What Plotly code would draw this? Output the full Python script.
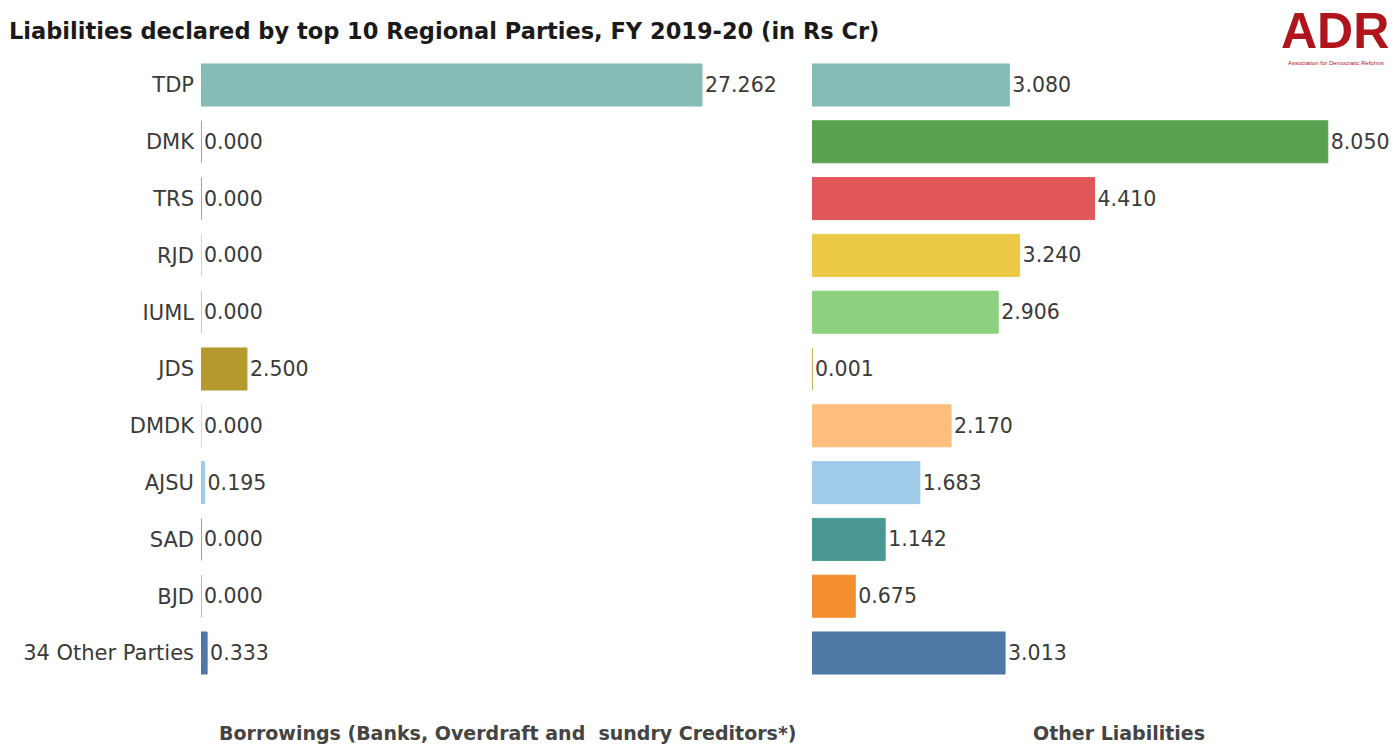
import plotly.graph_objects as go

parties = ["TDP", "DMK", "TRS", "RJD", "IUML", "JDS", "DMDK", "AJSU", "SAD", "BJD", "34 Other Parties"]
borrowings = [27.262, 0.000, 0.000, 0.000, 0.000, 2.500, 0.000, 0.195, 0.000, 0.000, 0.333]
other_liabilities = [3.080, 8.050, 4.410, 3.240, 2.906, 0.001, 2.170, 1.683, 1.142, 0.675, 3.013]
colors = ["#86BCB6", "#59A14F", "#E15759", "#EDC948", "#8CD17D", "#B6992D",
          "#FFBE7D", "#A0CBE8", "#499894", "#F28E2B", "#4E79A7"]

W, H = 1397, 747
FONT = "DejaVu Sans"


def px(x):
    return x / W


def py(y):
    return 1 - y / H


fig = go.Figure()
for trace_vals, xa, ya in [(borrowings, "x", "y"), (other_liabilities, "x2", "y2")]:
    fig.add_trace(go.Bar(
        y=parties, x=trace_vals, orientation="h", xaxis=xa, yaxis=ya,
        marker=dict(color=colors, line=dict(color=colors, width=1)),
        width=0.74, text=[f"{v:.3f}" for v in trace_vals], textposition="outside",
        textfont=dict(family=FONT, size=20.5, color="#3a3a3a"), cliponaxis=False,
        showlegend=False))

ydom = [py(681.4), py(56.6)]
fig.update_layout(
    width=W, height=H, margin=dict(l=0, r=0, t=0, b=0),
    paper_bgcolor="white", plot_bgcolor="white",
    font=dict(family=FONT, color="#333333"),
    xaxis=dict(domain=[px(201), px(790)], range=[0, 32.05], visible=False),
    xaxis2=dict(domain=[px(812), 1.0], range=[0, 9.13], visible=False),
    yaxis=dict(domain=ydom, anchor="x", autorange="reversed", categoryorder="array",
               categoryarray=parties, showgrid=False, zeroline=False, showline=False,
               ticks="", ticklabelstandoff=6,
               tickfont=dict(family=FONT, size=21, color="#3a3a3a")),
    yaxis2=dict(domain=ydom, anchor="x2", autorange="reversed", categoryorder="array",
                categoryarray=parties, showgrid=False, showticklabels=False,
                zeroline=False, showline=False, ticks=""),
    annotations=[
        dict(text="<b>Liabilities declared by top 10 Regional Parties, FY 2019-20 (in Rs Cr)</b>",
             x=px(7), y=py(31), xref="paper", yref="paper", xanchor="left", yanchor="middle",
             showarrow=False, font=dict(family=FONT, size=22.5, color="#1a1a1a")),
        dict(text="<b>Borrowings (Banks, Overdraft and  sundry Creditors*)</b>",
             x=px(508), y=py(733), xref="paper", yref="paper", xanchor="center", yanchor="middle",
             showarrow=False, font=dict(family=FONT, size=19, color="#444444")),
        dict(text="<b>Other Liabilities</b>",
             x=px(1119), y=py(733), xref="paper", yref="paper", xanchor="center", yanchor="middle",
             showarrow=False, font=dict(family=FONT, size=19, color="#444444")),
        dict(text="<b>ADR</b>",
             x=px(1335), y=py(31), xref="paper", yref="paper", xanchor="center", yanchor="middle",
             showarrow=False, font=dict(family="Liberation Sans", size=50, color="#B0141C")),
        dict(text="Association for Democratic Reforms",
             x=px(1336), y=py(63), xref="paper", yref="paper", xanchor="center", yanchor="middle",
             showarrow=False, font=dict(family="Liberation Sans", size=6, color="#B0141C")),
    ],
)
fig.write_html("out.html", config={"displayModeBar": False},
               post_script="document.body.style.margin='0';")
